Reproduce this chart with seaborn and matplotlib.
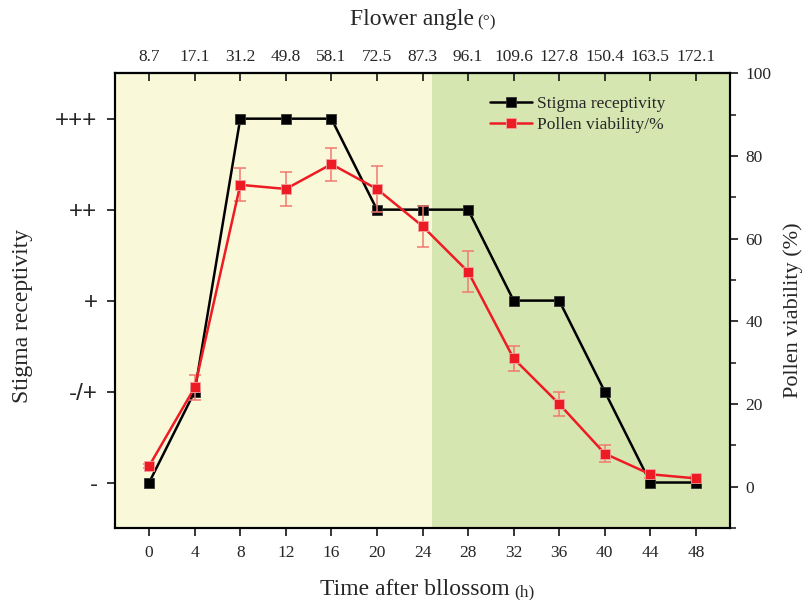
import matplotlib
matplotlib.use("Agg")
import matplotlib.pyplot as plt
import seaborn as sns
import pandas as pd
from matplotlib.ticker import MultipleLocator

# ---- data ----
time_h = [0, 4, 8, 12, 16, 20, 24, 28, 32, 36, 40, 44, 48]
stigma_level = [0, 1, 4, 4, 4, 3, 3, 3, 2, 2, 1, 0, 0]
pollen_viability = [5, 24, 73, 72, 78, 72, 63, 52, 31, 20, 8, 3, 2]
pollen_err = [0.5, 3, 4, 4, 4, 5.5, 5, 5, 3, 3, 2, 0.8, 0.5]
flower_angle = ["8.7", "17.1", "31.2", "49.8", "58.1", "72.5", "87.3", "96.1",
                "109.6", "127.8", "150.4", "163.5", "172.1"]
stigma_labels = ["-", "-/+", "+", "++", "+++"]

df = pd.DataFrame({"time": time_h, "stigma": stigma_level,
                   "pollen": pollen_viability, "err": pollen_err})

sns.set_style("ticks")
plt.rcParams["font.family"] = ["Liberation Serif", "DejaVu Serif"]

BLACK = "#000000"
RED = "#ed1c24"
ERR = "#f07a70"
YELLOW = "#f9f8d8"
GREEN = "#d6e6b1"

fig = plt.figure(figsize=(8.04, 6.0), dpi=100)
ax = fig.add_axes([0.143, 0.12, 0.765, 0.758])
ax2 = ax.twinx()

ax.set_xlim(-3, 51)
ax.set_ylim(-0.5, 4.5)
ax2.set_ylim(-10, 100)

ax.axvspan(-3, 24.8, color=YELLOW, lw=0, zorder=0)
ax.axvspan(24.8, 51, color=GREEN, lw=0, zorder=0)

sns.lineplot(data=df, x="time", y="stigma", ax=ax, color=BLACK, lw=1.8,
             marker="s", markersize=7, markeredgecolor="#333333",
             markeredgewidth=0.6, label="Stigma receptivity", legend=False)

ax2.errorbar(time_h, pollen_viability, yerr=pollen_err, fmt="none",
             ecolor=ERR, elinewidth=1.1, capsize=4, capthick=1.1, zorder=1)
sns.lineplot(data=df, x="time", y="pollen", ax=ax2, color=RED, lw=1.8,
             marker="s", markersize=7.5, markeredgecolor="#f5a0a0",
             markeredgewidth=0.6, label="Pollen viability/%", legend=False)

# left axis
ax.set_yticks(range(len(stigma_labels)))
ax.set_yticklabels(stigma_labels, fontsize=17.5, family=["Liberation Sans"])
ax.set_xticks(time_h)
ax.set_xticklabels([str(t) for t in time_h], fontsize=12.5)
ax.tick_params(axis="x", direction="out", length=6, width=1.3, pad=6)
ax.tick_params(axis="y", direction="out", length=6, width=1.3, pad=6.5)
ax.set_xlabel("")
ax.set_ylabel("Stigma receptivity", fontsize=17)
ax.yaxis.set_label_coords(-0.133, 0.466)

# right axis
ax2.set_yticks([0, 20, 40, 60, 80, 100])
ax2.yaxis.set_minor_locator(MultipleLocator(10))
ax2.tick_params(axis="y", which="major", direction="out", length=6, width=1.3,
                labelsize=12.5, pad=5)
ax2.tick_params(axis="y", which="minor", direction="out", length=4, width=1.2)
ax2.set_ylabel("Pollen viability (%)", fontsize=16)
ax2.yaxis.set_label_coords(1.086, 0.48)

# top axis
top = ax.secondary_xaxis("top")
top.set_xticks(time_h)
top.set_xticklabels(flower_angle, fontsize=12.5)
top.tick_params(direction="in", length=6, width=1.3, pad=6)

for a in (ax, ax2):
    for s in a.spines.values():
        s.set_linewidth(1.5)
        s.set_color("black")
for s in top.spines.values():
    s.set_linewidth(1.5)

# axis titles with smaller unit parts
t1 = fig.text(320 / 804, 1 - 595 / 600, "Time after bllossom", fontsize=17,
              ha="left", va="baseline")
ax.annotate("(h)", xy=(1, 0), xycoords=t1, xytext=(3, 0),
            textcoords="offset points", fontsize=12.5, va="bottom", ha="left")
t2 = fig.text(350 / 804, 1 - 25 / 600, "Flower angle", fontsize=17,
              ha="left", va="baseline")
ax.annotate("(°)", xy=(1, 0), xycoords=t2, xytext=(2, 0),
            textcoords="offset points", fontsize=12.5, va="bottom", ha="left")

# legend
h1, l1 = ax.get_legend_handles_labels()
h2, l2 = ax2.get_legend_handles_labels()
ax2.legend(h1 + h2, l1 + l2, loc="upper left", bbox_to_anchor=(0.585, 0.985),
           frameon=False, fontsize=12.5, handlelength=2.4, handletextpad=0.3,
           labelspacing=0.3)

fig.savefig("out.png", dpi=100)
